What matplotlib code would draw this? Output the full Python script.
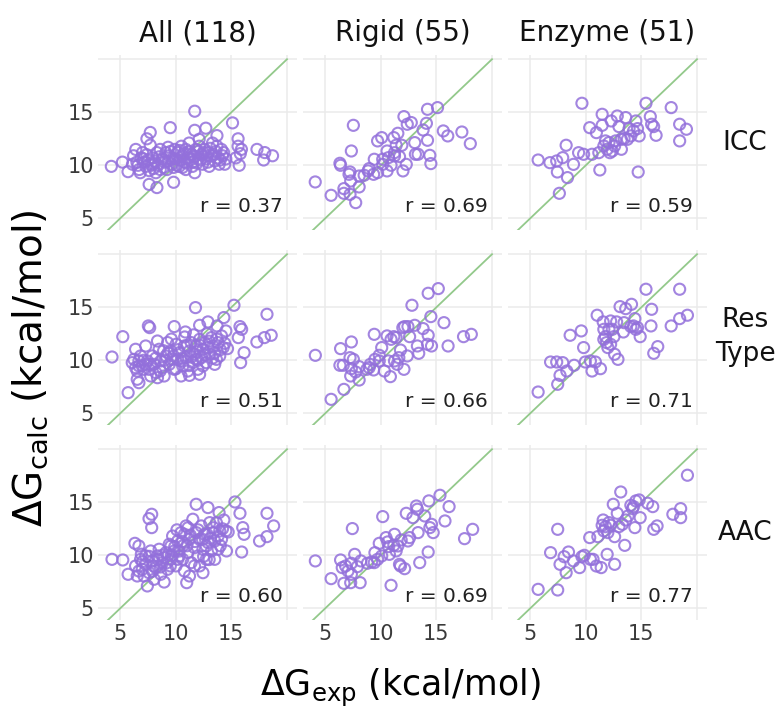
import numpy as np
import matplotlib.pyplot as plt

plt.rcParams['font.family'] = ['DejaVu Sans']
plt.rcParams['mathtext.default'] = 'regular'

col_titles = ['All (118)', 'Rigid (55)', 'Enzyme (51)']
row_titles = ['ICC', 'Res\nType', 'AAC']
r_values = [['0.37', '0.69', '0.59'],
            ['0.51', '0.66', '0.71'],
            ['0.60', '0.69', '0.77']]

# ICC row
all_icc_x = [11.7, 15.1, 9.5, 7.7, 11.7, 12.7, 13.7, 7.4, 15.6, 12.1, 7.7, 15.6, 15.9, 15.8, 17.3, 18.0, 18.7, 17.9,
             15.4, 14.4, 15.7, 4.2, 5.2, 5.7, 7.6, 8.3, 9.8,
             6.2, 6.5, 6.7, 7.0, 7.1, 7.3, 7.6, 7.9, 8.0, 8.3, 8.6, 8.8, 8.9, 9.1, 9.3, 9.4, 9.6, 9.9, 10.0, 10.2,
             10.3, 10.6, 10.8, 10.9, 11.1, 11.2, 11.4, 11.5, 11.8, 12.0, 12.1, 12.3, 12.4, 12.6, 12.7, 12.9, 13.0,
             13.2, 13.3, 13.5, 13.6, 13.8, 13.9, 14.1, 14.2, 6.4, 6.8, 7.4, 8.2, 8.6, 10.5, 10.9, 11.7, 6.1, 6.9,
             7.2, 7.8, 8.1, 8.4, 9.0, 9.2, 9.7, 10.1, 10.4, 10.7, 11.0, 11.3, 11.6, 11.9, 12.2, 12.5, 12.8, 13.1,
             13.4, 13.7, 14.0, 14.3, 9.5, 8.5, 7.5, 6.6, 10.3, 11.2, 12.0, 12.9, 9.8, 8.0, 14.5, 11.5, 10.6, 9.3]
all_icc_y = [15.1, 14.0, 13.55, 13.1, 13.3, 13.5, 12.8, 12.5, 12.5, 12.45, 11.9, 11.8, 11.5, 11.1, 11.5, 11.2, 10.9,
             10.5, 10.7, 10.1, 10.0, 9.9, 10.3, 9.4, 8.2, 7.9, 8.4,
             10.9, 10.3, 9.6, 11.2, 10.6, 9.9, 9.5, 10.7, 10.1, 11.2, 11.5, 10.6, 9.8, 11.2, 11.7, 10.9, 10.1, 11.5,
             10.6, 11.2, 9.9, 10.9, 10.3, 11.5, 10.7, 12.1, 11.0, 9.9, 11.5, 10.6, 11.8, 11.0, 10.1, 11.5, 10.6,
             11.2, 9.9, 10.9, 12.1, 10.4, 11.3, 10.7, 10.1, 11.5, 10.9, 11.5, 9.3, 11.0, 9.3, 9.6, 11.8, 9.6, 9.3,
             10.1, 10.7,
             10.3, 10.0, 10.4, 10.0, 10.3, 9.6, 10.6, 10.0, 10.5, 11.1, 10.2, 10.5, 10.8, 10.2, 10.5, 11.2, 10.9,
             11.6, 11.0, 11.8, 10.5, 11.2, 11.3, 10.8, 10.5, 10.0, 11.4, 11.3, 11.3, 10.3, 9.8, 9.7, 10.6, 10.3,
             9.8, 10.4]
rigid_icc_x = [4.1, 5.53, 6.68, 6.68, 7.23, 7.74, 8.05, 7.53, 7.35, 6.32, 6.38, 7.23, 7.14, 7.29, 8.05, 8.95, 9.35,
               9.71, 9.41, 9.71, 10.08, 10.17, 10.56, 10.56, 10.92, 11.17, 11.38, 11.23, 11.53, 11.68, 11.89, 12.08,
               12.38, 12.74, 12.29, 11.99, 13.05, 13.11, 13.35, 13.8, 14.1, 14.2, 15.1, 14.2, 14.41, 14.5, 15.62,
               16.02, 17.29, 18.05, 10.68, 8.5, 11.23, 10.17, 8.86]
rigid_icc_y = [8.43, 7.17, 7.36, 7.8, 7.26, 6.48, 7.96, 13.77, 11.35, 10.19, 10.0, 9.37, 9.15, 8.52, 8.99, 9.69, 9.15,
               9.31, 10.57, 12.3, 12.61, 10.57, 11.35, 9.47, 10.0, 12.61, 11.89, 10.88, 13.02, 10.82, 11.89, 14.59,
               13.87, 14.03, 10.09, 9.47, 12.14, 11.04, 11.04, 13.33, 13.96, 15.28, 15.44, 12.36, 10.94, 10.16,
               13.24, 12.77, 13.14, 12.04, 10.72, 9.06, 11.19, 10.09, 9.47]
enzyme_icc_x = [5.71, 6.77, 7.38, 7.92, 7.44, 8.35, 7.62, 8.23, 8.89, 9.35, 9.65, 9.8, 10.35, 10.56, 10.95, 11.17,
                11.26, 11.47, 11.47, 11.62, 11.92, 12.08, 12.29, 12.38, 12.59, 12.83, 12.98, 13.2, 13.44, 13.59,
                13.89, 14.05, 14.29, 14.5, 14.65, 14.71, 14.8, 15.41, 15.8, 15.92, 16.1, 16.32, 17.68, 18.44, 18.44,
                19.05, 11.77, 13.2, 12.17, 13.74, 12.68]
enzyme_icc_y = [10.5, 10.25, 10.41, 10.72, 9.37, 8.84, 7.36, 11.89, 10.09, 11.19, 15.85, 11.04, 13.55, 11.04, 13.08,
                11.19, 9.56, 14.81, 13.77, 11.82, 11.51, 12.14, 14.18, 11.35, 11.82, 14.65, 13.65, 12.45, 12.52,
                14.5, 13.46, 12.77, 13.24, 14.18, 13.46, 9.37, 12.77, 15.85, 14.59, 13.87, 13.65, 12.83, 15.44,
                13.87, 12.3, 13.4, 12.3, 11.51, 11.19, 12.45, 12.3]

# Res Type row
all_res_x = [11.77, 15.23, 18.2, 7.53, 7.65, 5.23, 4.26, 5.71, 6.68, 6.53, 9.86, 10.86, 12.14, 12.89, 14.32, 13.71,
             14.5, 15.77, 15.92, 15.62, 17.29, 17.97, 18.58, 16.14, 15.83, 14.65, 13.5, 12.14, 11.23, 10.47, 8.35,
             8.35, 6.68, 6.23,
             6.38, 6.83, 6.98, 7.29, 7.44, 7.59, 7.89, 8.05, 8.2, 8.65, 8.8, 9.11, 9.26, 9.41, 9.56, 9.86, 10.02,
             10.17, 10.32, 10.62, 10.77, 10.92, 11.08, 11.23, 11.38, 11.53, 11.68, 11.83, 11.98, 12.14, 12.29, 12.44,
             12.59, 12.74, 12.89, 13.05, 13.2, 13.35, 13.5, 13.8, 13.95, 14.11, 14.26, 7.14, 6.53, 7.74, 8.5, 8.95,
             9.71, 10.47, 11.83, 12.44, 13.65, 6.08, 6.38, 7.29, 6.68,
             9.0, 9.3, 9.8, 10.2, 10.6, 11.0, 11.4, 11.9, 12.2, 12.6, 13.0, 13.3, 13.7, 14.0, 14.4, 8.2, 7.7, 7.1,
             8.6, 10.0, 11.2, 12.0, 10.8, 9.6, 12.8, 11.6, 8.9]
all_res_y = [14.97, 15.19, 14.34, 13.24, 13.08, 12.23, 10.31, 6.95, 7.89, 8.21, 13.18, 12.67, 13.3, 13.62, 14.03,
             13.24, 12.77, 13.18, 12.92, 12.14, 11.73, 12.14, 12.36, 10.72, 9.78, 11.1, 9.62, 8.68, 8.58, 8.52,
             11.82, 8.36, 9.47, 10.09,
             11.04, 10.41, 9.47, 11.35, 9.94, 9.15, 10.41, 9.62, 8.84, 9.94, 9.31, 10.41, 11.67, 9.62, 10.88, 9.15,
             11.51, 10.09, 10.72, 9.47, 11.35, 10.25, 8.99, 10.88, 11.67, 9.78, 10.57, 11.35, 9.15, 11.98, 10.25,
             11.04, 11.67, 9.78, 11.2, 10.57, 12.14, 11.35, 10.72, 11.67, 10.41, 12.3, 11.2, 9.15, 8.99, 8.52,
             11.04, 8.52, 10.09, 9.94, 10.09, 9.47, 10.09, 9.78, 9.31, 9.62, 9.94,
             10.0, 10.7, 10.4, 11.0, 10.2, 11.4, 10.3, 10.8, 11.4, 10.5, 11.8, 10.2, 12.0, 11.0, 11.6, 10.2, 9.6,
             10.0, 9.0, 9.2, 9.5, 10.0, 12.2, 12.0, 12.5, 12.4, 10.9]
rigid_res_x = [4.11, 5.53, 6.68, 6.38, 7.35, 6.32, 6.62, 7.23, 7.53, 7.35, 7.74, 7.29, 8.05, 8.05, 8.74, 9.05, 9.41,
               9.47, 9.35, 9.86, 10.08, 10.32, 10.56, 10.68, 10.86, 11.17, 11.38, 11.23, 11.47, 11.77, 11.98, 12.14,
               12.08, 12.38, 12.59, 12.8, 13.05, 13.29, 13.41, 13.8, 14.26, 15.17, 14.26, 14.2, 14.56, 14.5, 15.68,
               16.05, 17.44, 18.14, 10.92, 9.86, 11.62, 8.95, 12.44]
rigid_res_y = [10.47, 6.32, 7.26, 11.1, 11.73, 9.53, 9.53, 10.25, 10.09, 9.21, 8.9, 8.52, 8.14, 9.4, 9.15, 9.62,
               12.45, 10.09, 9.09, 10.47, 11.2, 8.99, 12.3, 9.94, 8.46, 12.23, 12.14, 9.94, 9.62, 10.97, 13.08,
               13.18, 9.15, 10.41, 12.23, 15.19, 13.3, 11.35, 10.66, 12.99, 16.32, 16.76, 12.36, 11.51, 11.35,
               14.12, 13.55, 11.35, 12.23, 12.45, 11.98, 9.94, 10.25, 9.31, 13.18]
enzyme_res_x = [5.71, 7.47, 7.68, 8.29, 6.83, 7.38, 7.92, 8.95, 8.59, 9.59, 9.8, 9.95, 10.56, 10.41, 10.86, 11.32,
                11.02, 11.56, 11.62, 11.77, 11.86, 11.98, 12.23, 12.38, 12.53, 12.77, 12.59, 12.89, 13.08, 13.59,
                14.11, 13.44, 13.38, 14.41, 14.29, 14.65, 14.89, 15.41, 15.92, 15.86, 16.47, 16.11, 17.68, 18.44,
                18.44, 19.14, 12.08, 14.05, 11.62, 12.23, 14.5]
enzyme_res_y = [7.01, 7.74, 8.58, 8.99, 9.84, 9.84, 9.78, 9.53, 12.36, 12.77, 11.2, 9.84, 8.99, 9.94, 9.84, 9.21,
                14.25, 13.62, 12.92, 12.23, 11.67, 11.2, 13.71, 12.92, 12.23, 13.62, 10.57, 10.09, 15.06, 14.87,
                15.28, 13.55, 12.67, 13.93, 13.24, 13.08, 12.23, 16.7, 14.81, 13.24, 11.29, 10.66, 13.24, 16.7,
                13.93, 14.25, 12.92, 13.18, 11.98, 11.51, 12.92]

# AAC row
all_aac_x = [11.83, 12.89, 15.32, 13.89, 15.77, 18.2, 18.8, 18.2, 17.53, 16.14, 16.02, 15.92, 7.83, 7.59, 7.83, 4.26,
             5.23, 5.71, 6.32, 6.68, 7.44, 8.95, 10.98, 12.44, 13.5, 14.56, 14.5, 14.32, 14.71,
             6.38, 6.53, 6.83, 6.98, 7.29, 7.29, 7.59, 7.74, 7.89, 8.2, 8.35, 8.65, 8.8, 9.11, 9.26, 9.41, 9.56,
             9.71, 9.86, 10.02, 10.17, 10.32, 10.47, 10.62, 10.77, 10.92, 11.08, 11.23, 11.38, 11.53, 11.68, 11.83,
             11.98, 12.14, 12.29, 12.44, 12.59, 12.74, 12.89, 13.05, 13.2, 13.35, 13.5, 13.65, 13.8, 13.95, 14.11,
             6.68, 7.14, 8.05, 8.5, 8.95, 10.62, 11.23, 12.14, 9.56, 10.17, 11.68, 10.77, 12.74,
             7.0, 7.6, 8.0, 8.4, 8.8, 9.2, 9.6, 9.9, 10.3, 10.6, 11.0, 11.3, 11.7, 12.0, 12.4, 12.8, 13.1, 13.4,
             13.8, 14.2, 6.9, 7.9, 8.6, 9.5, 10.1, 11.1, 12.5, 13.0, 14.0]
all_aac_y = [14.81, 14.5, 15.03, 14.03, 13.96, 13.96, 12.77, 11.76, 11.35, 11.98, 12.61, 10.31, 13.87, 13.46, 12.61,
             9.62, 9.56, 8.21, 11.13, 10.88, 7.11, 7.48, 7.42, 8.36, 9.62, 10.41, 12.3, 13.33, 12.2,
             8.99, 8.05, 9.62, 8.68, 9.94, 9.15, 8.36, 10.41, 9.47, 8.84, 9.94, 8.21, 9.31, 10.25, 8.68, 11.04,
             9.62, 11.82, 10.41, 9.0, 11.35, 9.94, 12.14, 10.88, 8.52, 12.77, 10.25, 11.51, 9.31, 13.4, 10.72,
             12.14, 9.94, 11.51, 12.77, 10.57, 11.98, 9.62, 11.2, 13.08, 10.41, 12.14, 11.35, 13.08, 10.57, 12.3,
             11.51, 8.52, 8.05, 7.74, 10.57, 9.78, 9.62, 8.05, 9.0, 10.88, 9.62, 9.0, 11.98, 10.88,
             9.4, 9.9, 9.0, 9.6, 10.0, 9.3, 10.0, 10.8, 10.4, 11.3, 10.9, 11.9, 11.3, 12.4, 11.5, 12.0, 11.6, 12.6,
             11.8, 12.5, 10.1, 8.5, 8.9, 9.0, 12.4, 12.6, 9.9, 9.6, 10.9]
rigid_aac_x = [4.11, 5.53, 6.38, 6.53, 6.68, 6.83, 7.05, 7.35, 7.44, 7.29, 7.65, 7.35, 7.89, 8.14, 8.2, 8.8, 9.17,
               9.47, 9.71, 9.86, 10.17, 10.08, 10.47, 10.62, 10.77, 10.92, 11.17, 11.23, 11.53, 11.68, 11.77, 11.83,
               12.14, 12.29, 12.44, 12.59, 12.89, 13.2, 13.29, 13.35, 13.5, 13.95, 14.26, 14.32, 14.41, 14.56,
               14.71, 15.32, 15.77, 16.14, 17.53, 18.26, 9.41, 11.38, 10.71]
rigid_aac_y = [9.47, 7.8, 9.56, 8.84, 7.36, 8.99, 8.52, 9.25, 12.52, 7.42, 10.09, 8.21, 8.93, 7.42, 9.47, 9.25, 9.37,
               10.25, 9.62, 11.13, 13.65, 9.94, 11.67, 11.26, 10.09, 7.17, 10.94, 11.98, 10.88, 9.15, 8.99, 11.45,
               8.74, 13.96, 11.35, 11.67, 13.55, 14.65, 14.34, 12.14, 9.31, 13.71, 10.31, 15.13, 12.61, 12.92,
               12.14, 15.66, 13.24, 14.59, 11.57, 12.45, 9.31, 10.41, 10.82]
enzyme_aac_x = [5.71, 7.47, 7.47, 6.83, 7.68, 8.05, 8.44, 8.23, 8.89, 9.44, 9.65, 9.86, 10.35, 10.65, 10.95, 11.08,
                11.38, 11.56, 11.47, 11.77, 11.98, 11.92, 12.23, 12.47, 12.59, 12.59, 12.83, 12.98, 13.14, 13.5,
                13.59, 14.05, 14.29, 14.5, 14.41, 14.8, 14.89, 15.56, 16.02, 16.11, 16.41, 17.83, 18.53, 18.53,
                19.14, 12.08, 14.2, 13.29, 11.62, 10.41, 13.8]
enzyme_aac_y = [6.79, 6.73, 12.45, 10.25, 9.15, 9.87, 10.31, 8.36, 9.47, 8.84, 9.87, 10.0, 11.67, 9.62, 8.99, 11.76,
                8.84, 13.33, 12.83, 12.7, 12.14, 10.09, 12.83, 14.81, 11.76, 9.15, 13.96, 12.7, 15.97, 10.94, 13.33,
                14.72, 14.59, 15.13, 12.61, 15.22, 13.55, 14.91, 14.59, 12.45, 12.77, 13.87, 14.4, 13.55, 17.55,
                13.08, 14.4, 12.92, 12.3, 9.62, 13.71]

panel_x = [[all_icc_x, rigid_icc_x, enzyme_icc_x],
           [all_res_x, rigid_res_x, enzyme_res_x],
           [all_aac_x, rigid_aac_x, enzyme_aac_x]]
panel_y = [[all_icc_y, rigid_icc_y, enzyme_icc_y],
           [all_res_y, rigid_res_y, enzyme_res_y],
           [all_aac_y, rigid_aac_y, enzyme_aac_y]]

W, H = 776, 713
col_left = [98, 303, 508]
row_top = [55, 250, 445]
pw, ph = 199, 175

purple = '#9370DB'
green = '#93c98b'
grid_col = '#ebebeb'
tick_col = '#3a3a3a'

fig = plt.figure(figsize=(W / 100, H / 100), dpi=100)

for i in range(3):
    for j in range(3):
        ax = fig.add_axes([col_left[j] / W, 1 - (row_top[i] + ph) / H, pw / W, ph / H])
        ax.set_xlim(3.0, 20.9)
        ax.set_ylim(3.9, 20.4)
        for s in ax.spines.values():
            s.set_visible(False)
        ax.set_xticks([5, 10, 15, 20], labels=['5', '10', '15', ''])
        ax.set_yticks([5, 10, 15, 20], labels=['5', '10', '15', ''])
        ax.tick_params(length=0, labelsize=15, labelcolor=tick_col, pad=3)
        if j > 0:
            ax.tick_params(labelleft=False)
        if i < 2:
            ax.tick_params(labelbottom=False)
        ax.grid(True, color=grid_col, lw=1.1)
        ax.set_axisbelow(True)

        ax.plot([3.9, 20], [3.9, 20], color=green, lw=1.3, zorder=1)
        ax.scatter(panel_x[i][j], panel_y[i][j], s=64, facecolors='none',
                   edgecolors=purple, linewidths=1.5, alpha=0.85, zorder=2)
        ax.text(19.6, 6.1, 'r = ' + r_values[i][j], ha='right', va='center',
                fontsize=14.5, color='#222222')

        if i == 0:
            ax.set_title(col_titles[j], fontsize=20, pad=10, color='#111111')
        if j == 2:
            fig.text((col_left[2] + pw + 38) / W, 1 - (row_top[i] + ph / 2) / H, row_titles[i],
                     ha='center', va='center', fontsize=19, color='#111111', linespacing=1.4)

fig.text(400 / W, 1 - 688 / H, r'ΔG$_{exp}$ (kcal/mol)', ha='center', va='center', fontsize=25)
fig.text(30 / W, 1 - 368 / H, r'ΔG$_{calc}$ (kcal/mol)', ha='center', va='center',
         rotation=90, fontsize=28)

fig.savefig('out.png', dpi=100)
